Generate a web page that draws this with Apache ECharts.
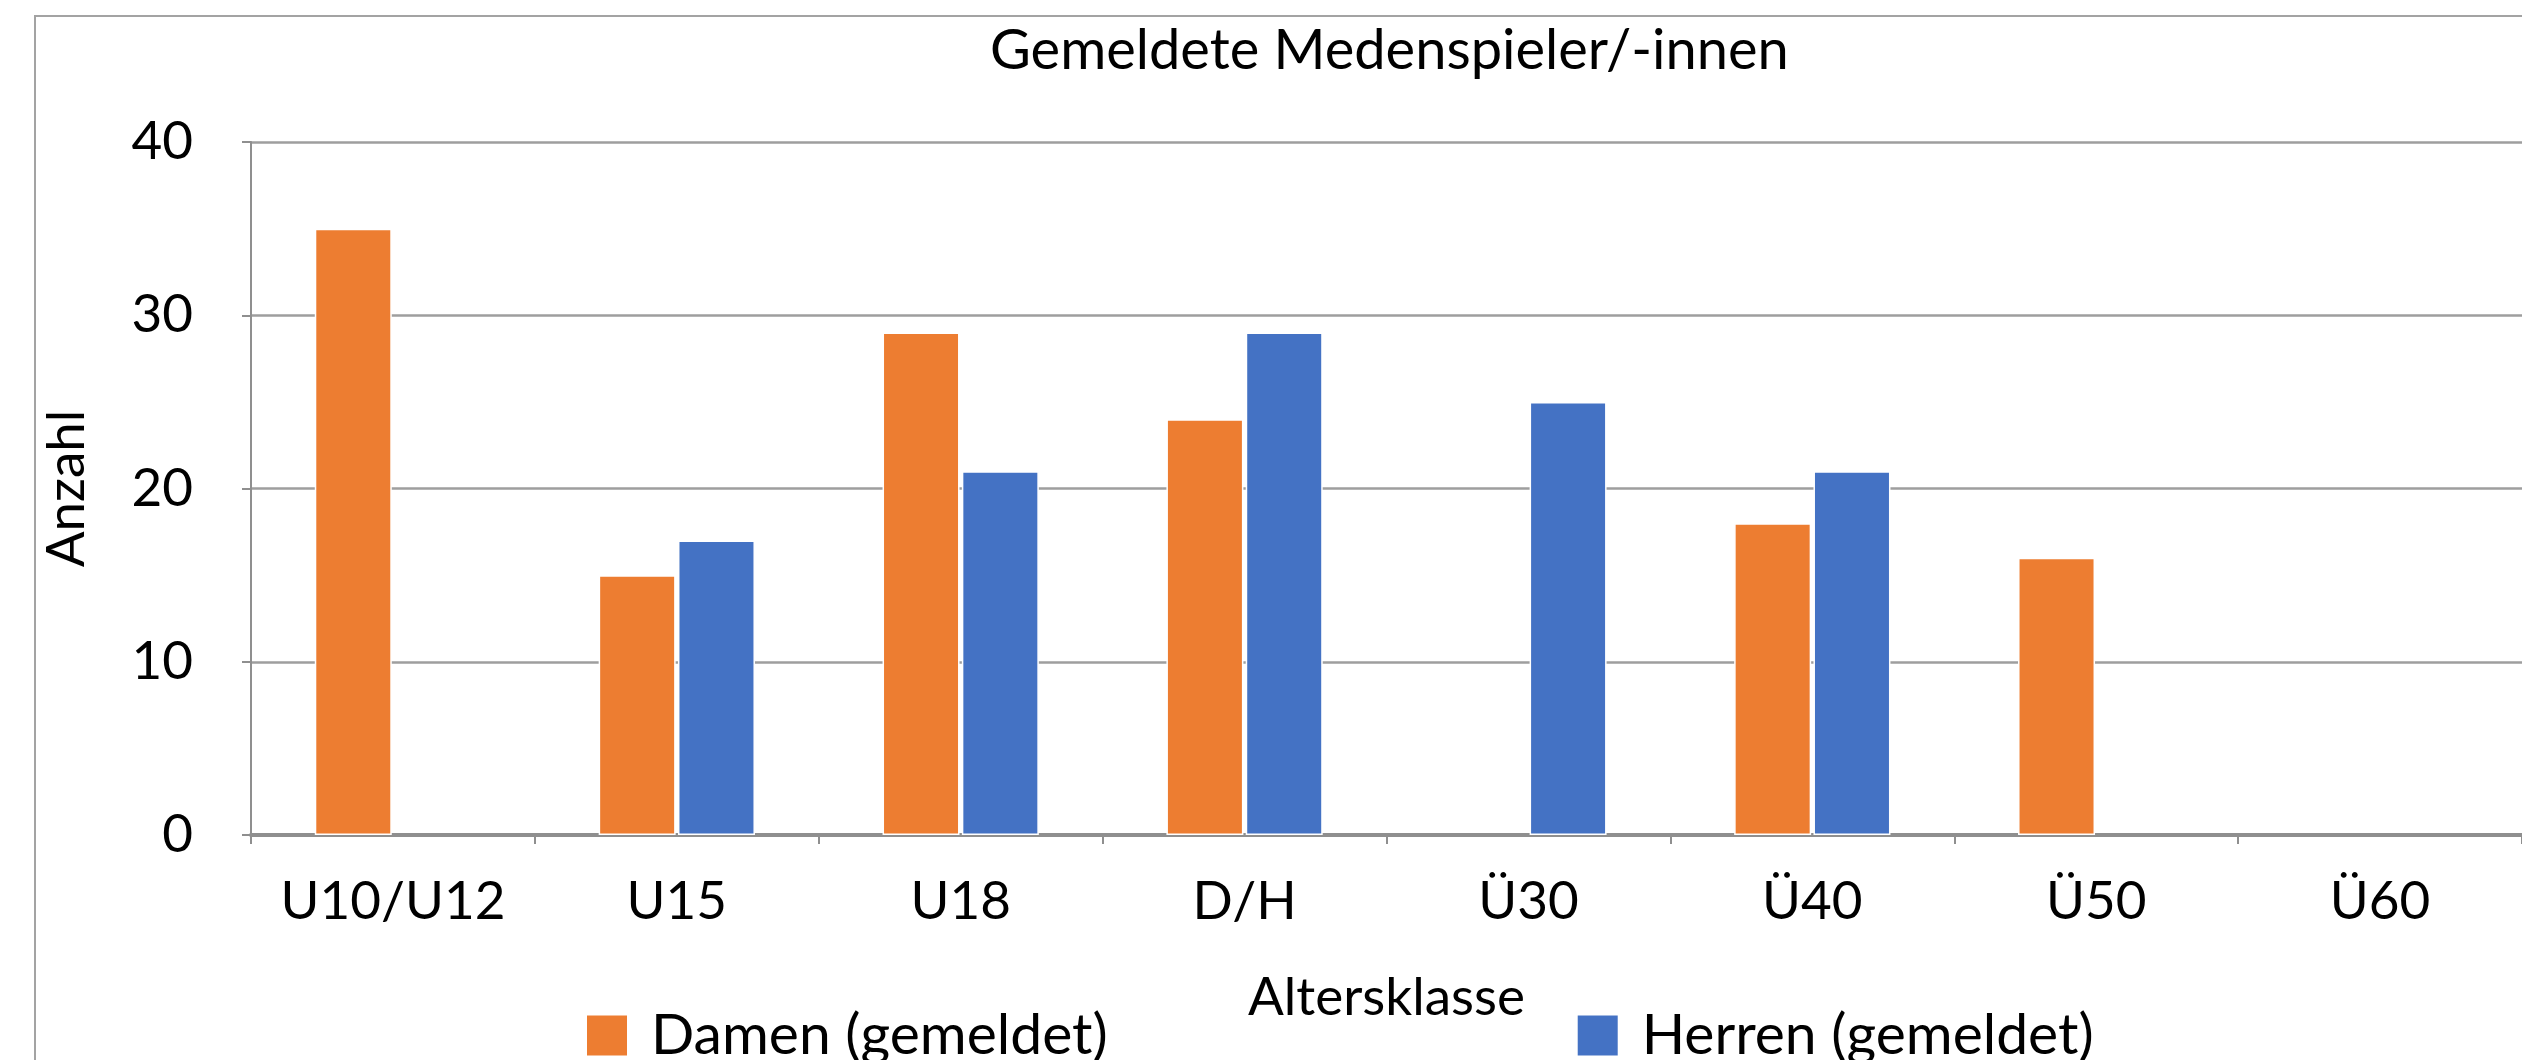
<!DOCTYPE html>
<html>
<head>
<meta charset="utf-8">
<script src="https://cdn.jsdelivr.net/npm/echarts@6/dist/echarts.min.js"></script>
<style>
  html, body { margin: 0; padding: 0; background: #fff; }
  #chart { width: 2522px; height: 1060px; }
</style>
</head>
<body>
<div id="chart"></div>
<script>
const categories = ['U10/U12', 'U15', 'U18', 'D/H', 'Ü30', 'Ü40', 'Ü50', 'Ü60']
// null = kein Balken
const damen = [35, 15, 29, 24, null, 18, 16, null]
const herren = [null, 17, 21, 29, 25, 21, null, null]
const yTicks = [0, 10, 20, 30, 40]

const FONT = 'Lato'
const chart = echarts.init(document.getElementById('chart'))

chart.setOption({
  backgroundColor: '#fff',
  animation: false,
  textStyle: { fontFamily: FONT, color: '#000' },
  title: {
    text: 'Gemeldete Medenspieler/-innen',
    left: 985,
    top: 18,
    textStyle: { fontFamily: FONT, fontSize: 56, fontWeight: 'normal', color: '#000' },
  },
  // Rahmen um das Diagramm (rechts/unten abgeschnitten)
  graphic: [{
    type: 'rect',
    shape: { x: 35, y: 16, width: 2600, height: 1200 },
    style: { fill: 'none', stroke: '#a3a3a3', lineWidth: 2 },
    silent: true,
    z: -1,
  }],
  legend: {
    left: 580,
    top: 1002,
    itemWidth: 42,
    itemHeight: 42,
    itemGap: 468,
    icon: 'rect',
    textStyle: { fontFamily: FONT, fontSize: 57, color: '#000', padding: [0, 0, 0, 18] },
    data: ['Damen (gemeldet)', 'Herren (gemeldet)'],
  },
  grid: { left: 251, right: -1, top: 142, bottom: 225, containLabel: false },
  xAxis: {
    type: 'category',
    data: categories,
    name: 'Altersklasse',
    nameLocation: 'middle',
    nameGap: 136,
    nameTextStyle: { fontFamily: FONT, fontSize: 53, color: '#000' },
    axisLine: { lineStyle: { color: '#8f8f8f', width: 4 } },
    axisTick: { show: true, length: 9, lineStyle: { color: '#8f8f8f', width: 2 } },
    axisLabel: { interval: 0, margin: 40, fontFamily: FONT, fontSize: 53, color: '#000' },
  },
  yAxis: {
    type: 'value',
    min: yTicks[0],
    max: yTicks[yTicks.length - 1],
    interval: 10,
    name: 'Anzahl',
    nameLocation: 'middle',
    nameGap: 158,
    nameTextStyle: { fontFamily: FONT, fontSize: 53, color: '#000' },
    axisLine: { show: true, lineStyle: { color: '#8f8f8f', width: 2 } },
    axisTick: { show: true, length: 9, lineStyle: { color: '#8f8f8f', width: 2 } },
    axisLabel: { margin: 58, fontFamily: FONT, fontSize: 53, color: '#000' },
    splitLine: { lineStyle: { color: '#9e9e9e', width: 2.5 } },
  },
  series: [
    {
      name: 'Damen (gemeldet)',
      type: 'bar',
      data: damen,
      barWidth: 77,
      barGap: '3%',
      itemStyle: { color: '#ED7D31', borderColor: '#fff', borderWidth: 1.5 },
    },
    {
      name: 'Herren (gemeldet)',
      type: 'bar',
      data: herren,
      barWidth: 77,
      barGap: '3%',
      itemStyle: { color: '#4472C4', borderColor: '#fff', borderWidth: 1.5 },
    },
  ],
})
</script>
</body>
</html>
